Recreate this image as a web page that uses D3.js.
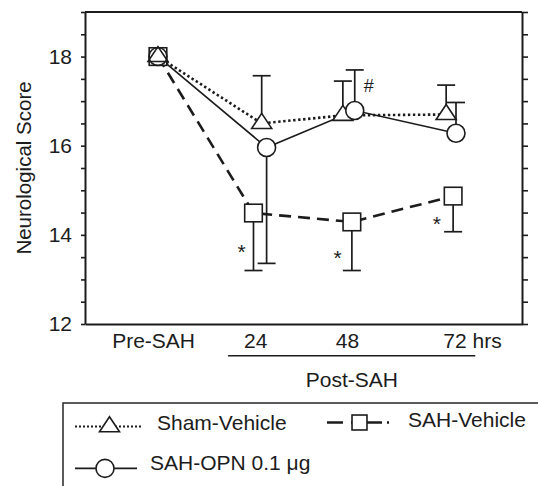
<!DOCTYPE html>
<html><head><meta charset="utf-8">
<script src="https://cdn.jsdelivr.net/npm/d3@7"></script>
<style>
html,body{margin:0;padding:0;background:#fff;}
svg{display:block;font-family:"Liberation Sans",Arial,Helvetica,sans-serif;}
</style></head>
<body>
<svg id="chart" width="538" height="486"></svg>
<script>
// ---- data ----
const tickLabels = ["Pre-SAH", "24", "48", "72 hrs"];
const tickHours  = [-1.2, 23.7, 46.1, 76.6];
const yTickLabels = [12, 14, 16, 18];

const shamX  = [0, 25.3, 45.1, 70.3];
const shamY  = [18, 16.5, 16.68, 16.7];
const shamSD = [0, 1.07, 0.77, 0.66];
const shamDir = [0, 1, 1, 1];

const vehX  = [0, 23.3, 47.3, 72.0];
const vehY  = [18, 14.49, 14.29, 14.87];
const vehSD = [0, 1.29, 1.09, 0.80];
const vehDir = [0, -1, -1, -1];

const opnX  = [0, 26.5, 48.0, 72.7];
const opnY  = [18, 15.96, 16.79, 16.28];
const opnSD = [0, 2.6, 0.91, 0.69];
const opnDir = [0, -1, 1, 1];

const annText = ["*", "*", "*", "#"];
const annX = [20.4, 43.8, 68.0, 51.4];
const annY = [13.70, 13.57, 14.33, 17.35];

const legendNames = ["Sham-Vehicle", "SAH-Vehicle", "SAH-OPN 0.1 \u03bcg"];

// ---- drawing ----
const svg = d3.select("#chart");
const ink = "#1c1c1c";
const x = d3.scaleLinear().domain([-17.8, 88.8]).range([85, 522]);
const y = d3.scaleLinear().domain([12, 19]).range([324, 12]);
const FS = 21;

// axes
const yTicks = d3.range(12, 19.001, 0.5);
const gl = svg.append("g").attr("transform", `translate(${x.range()[0]},0)`)
  .call(d3.axisLeft(y).tickValues(yTicks).tickSize(4).tickSizeOuter(0).tickPadding(9)
    .tickFormat(d => yTickLabels.includes(d) ? d : ""));
const gr = svg.append("g").attr("transform", `translate(${x.range()[1]},0)`)
  .call(d3.axisRight(y).tickValues(yTicks).tickSize(6).tickSizeOuter(0).tickFormat(""));
[gl, gr].forEach(g => {
  g.select(".domain").attr("stroke", ink).attr("stroke-width", 2);
  g.selectAll(".tick line").attr("stroke", ink).attr("stroke-width", 1.6);
  g.selectAll(".tick text").attr("fill", ink).style("font-size", FS + "px")
    .style("font-family", "'Liberation Sans',Arial,sans-serif");
});
// top & bottom frame
svg.append("line").attr("x1", x.range()[0]).attr("x2", x.range()[1])
  .attr("y1", y(19)).attr("y2", y(19)).attr("stroke", ink).attr("stroke-width", 2);
const gb = svg.append("g").attr("transform", `translate(0,${y(12)})`)
  .call(d3.axisBottom(x).tickValues(tickHours).tickSize(0).tickSizeOuter(0).tickPadding(18)
    .tickFormat((d, i) => tickLabels[i]));
gb.select(".domain").attr("stroke", ink).attr("stroke-width", 2);
gb.selectAll(".tick text").attr("fill", ink).style("font-size", FS + "px")
  .style("font-family", "'Liberation Sans',Arial,sans-serif").attr("dy", 0).attr("y", 24);

// Post-SAH bracket
svg.append("line").attr("x1", x(17.1)).attr("x2", x(77.4)).attr("y1", 355.7).attr("y2", 355.7)
  .attr("stroke", ink).attr("stroke-width", 1.6);
svg.append("text").attr("x", x(47.3)).attr("y", 386.5).attr("text-anchor", "middle")
  .attr("fill", ink).style("font-size", FS + "px").text("Post-SAH");

// y label
svg.append("text").attr("transform", "translate(31,168) rotate(-90)")
  .attr("text-anchor", "middle").attr("fill", ink).style("font-size", "20.5px").text("Neurological Score");

// series lines
const series = [
  {X: shamX, Y: shamY, SD: shamSD, D: shamDir, dash: "2.4,2.6", w: 2.6, shape: "tri"},
  {X: vehX, Y: vehY, SD: vehSD, D: vehDir, dash: "12,7", w: 2.6, shape: "sq"},
  {X: opnX, Y: opnY, SD: opnSD, D: opnDir, dash: null, w: 1.6, shape: "circ"}
];
const lineGen = (s) => d3.line().x((d, i) => x(s.X[i])).y(d => y(d))(s.Y);
series.forEach(s => {
  svg.append("path").attr("d", lineGen(s)).attr("fill", "none").attr("stroke", ink)
    .attr("stroke-width", s.w).attr("stroke-dasharray", s.dash);
});
// error bars
series.forEach(s => {
  s.Y.forEach((v, i) => {
    if (!s.SD[i]) return;
    const end = v + s.D[i] * s.SD[i];
    const cx = x(s.X[i]);
    svg.append("line").attr("x1", cx).attr("x2", cx).attr("y1", y(v)).attr("y2", y(end))
      .attr("stroke", ink).attr("stroke-width", 1.7);
    svg.append("line").attr("x1", cx - 9).attr("x2", cx + 9).attr("y1", y(end)).attr("y2", y(end))
      .attr("stroke", ink).attr("stroke-width", 1.7);
  });
});
// markers
function marker(g, shape, cx, cy, scale) {
  scale = scale || 1;
  if (shape === "tri") {
    g.append("path").attr("d", `M${cx},${cy - 10 * scale} L${cx + 10 * scale},${cy + 5 * scale} L${cx - 10 * scale},${cy + 5 * scale} Z`)
      .attr("fill", "#fff").attr("stroke", ink).attr("stroke-width", 1.6);
  } else if (shape === "sq") {
    const h = 8.8 * scale;
    g.append("rect").attr("x", cx - h).attr("y", cy - h).attr("width", 2 * h).attr("height", 2 * h)
      .attr("fill", "#fff").attr("stroke", ink).attr("stroke-width", 1.6);
  } else {
    g.append("circle").attr("cx", cx).attr("cy", cy).attr("r", 9 * scale)
      .attr("fill", "#fff").attr("stroke", ink).attr("stroke-width", 1.6);
  }
}
[series[1], series[0], series[2]].forEach(s => {
  s.Y.forEach((v, i) => {
    if (i === 0) return;
    marker(svg, s.shape, x(s.X[i]), y(v));
  });
});
// pre-SAH overlapping markers (outlines visible)
const g0 = svg.append("g");
marker(g0, "sq", x(vehX[0]), y(vehY[0]));
marker(g0, "circ", x(opnX[0]), y(opnY[0]));
g0.selectAll("circle").attr("fill", "none");
marker(g0, "tri", x(shamX[0]), y(shamY[0]));
g0.selectAll("path").attr("fill", "none");

// annotations
annText.forEach((t, i) => {
  svg.append("text").attr("x", x(annX[i])).attr("y", y(annY[i]) + (t === "*" ? 11 : 6.5))
    .attr("text-anchor", "middle").attr("fill", ink)
    .style("font-size", t === "*" ? "21px" : "18px").text(t);
});

// legend
svg.append("rect").attr("x", 63).attr("y", 403).attr("width", 520).attr("height", 120)
  .attr("fill", "none").attr("stroke", "#333").attr("stroke-width", 1.6);
// row 1 sham
svg.append("line").attr("x1", 75).attr("x2", 142).attr("y1", 426.5).attr("y2", 426.5)
  .attr("stroke", ink).attr("stroke-width", 2).attr("stroke-dasharray", "2,2");
marker(svg, "tri", 109.5, 426.7);
svg.append("text").attr("x", 157).attr("y", 429.5).attr("fill", ink).style("font-size", FS + "px").text(legendNames[0]);
// row 1 vehicle
svg.append("line").attr("x1", 327).attr("x2", 390).attr("y1", 422.5).attr("y2", 422.5)
  .attr("stroke", ink).attr("stroke-width", 2.4).attr("stroke-dasharray", "16,8,31,5,2,40");
marker(svg, "sq", 359.5, 422.5, 0.85);
svg.append("text").attr("x", 408).attr("y", 427).attr("fill", ink).style("font-size", FS + "px").text(legendNames[1]);
// row 2 opn
svg.append("line").attr("x1", 75).attr("x2", 137).attr("y1", 468.3).attr("y2", 468.3)
  .attr("stroke", ink).attr("stroke-width", 1.8);
marker(svg, "circ", 105, 468.4);
svg.append("text").attr("x", 150).attr("y", 470).attr("fill", ink).style("font-size", FS + "px").text(legendNames[2]);
</script>
</body></html>
